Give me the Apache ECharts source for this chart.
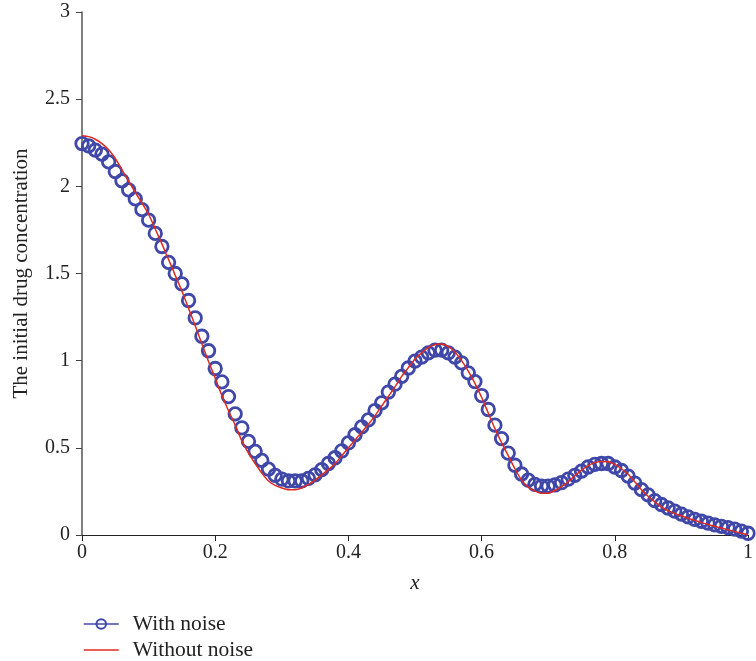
<!DOCTYPE html>
<html><head><meta charset="utf-8">
<script src="https://cdn.jsdelivr.net/npm/echarts@6/dist/echarts.min.js"></script>
<style>html,body{margin:0;padding:0;background:#fff}#c{width:756px;height:661px}</style>
</head><body><div id="c"></div>
<script>
const xValues = [0,0.01,0.02,0.03,0.04,0.05,0.06,0.07,0.08,0.09,0.1,0.11,0.12,0.13,0.14,0.15,0.16,0.17,0.18,0.19,0.2,0.21,0.22,0.23,0.24,0.25,0.26,0.27,0.28,0.29,0.3,0.31,0.32,0.33,0.34,0.35,0.36,0.37,0.38,0.39,0.4,0.41,0.42,0.43,0.44,0.45,0.46,0.47,0.48,0.49,0.5,0.51,0.52,0.53,0.54,0.55,0.56,0.57,0.58,0.59,0.6,0.61,0.62,0.63,0.64,0.65,0.66,0.67,0.68,0.69,0.7,0.71,0.72,0.73,0.74,0.75,0.76,0.77,0.78,0.79,0.8,0.81,0.82,0.83,0.84,0.85,0.86,0.87,0.88,0.89,0.9,0.91,0.92,0.93,0.94,0.95,0.96,0.97,0.98,0.99,1];
const withNoise = [2.245,2.232,2.208,2.185,2.14,2.085,2.032,1.98,1.928,1.866,1.806,1.73,1.655,1.564,1.5,1.44,1.345,1.245,1.14,1.057,0.955,0.878,0.794,0.695,0.615,0.537,0.48,0.428,0.378,0.342,0.32,0.31,0.31,0.31,0.325,0.345,0.375,0.41,0.443,0.482,0.528,0.575,0.62,0.66,0.714,0.758,0.82,0.865,0.91,0.958,0.997,1.02,1.045,1.06,1.06,1.045,1.02,0.987,0.93,0.88,0.8,0.72,0.63,0.553,0.47,0.4,0.35,0.315,0.29,0.28,0.28,0.287,0.3,0.32,0.342,0.366,0.39,0.405,0.41,0.41,0.39,0.37,0.338,0.298,0.26,0.23,0.197,0.175,0.155,0.137,0.12,0.104,0.09,0.079,0.068,0.058,0.05,0.042,0.034,0.022,0.01];
const withoutNoise = [2.29,2.285,2.27,2.245,2.21,2.16,2.095,2.03,1.965,1.904,1.84,1.755,1.67,1.58,1.49,1.4,1.3,1.2,1.097,0.995,0.9,0.8,0.713,0.63,0.54,0.47,0.41,0.355,0.31,0.285,0.27,0.26,0.26,0.27,0.29,0.315,0.345,0.375,0.41,0.455,0.5,0.545,0.59,0.635,0.685,0.74,0.795,0.85,0.91,0.96,1.01,1.045,1.075,1.092,1.095,1.08,1.05,1,0.94,0.87,0.79,0.7,0.61,0.53,0.455,0.38,0.315,0.275,0.252,0.24,0.24,0.255,0.278,0.305,0.34,0.372,0.398,0.415,0.422,0.42,0.405,0.38,0.348,0.305,0.26,0.222,0.19,0.162,0.14,0.124,0.11,0.096,0.084,0.071,0.06,0.05,0.04,0.03,0.02,0.01,0];
const xTicks = ['0','0.2','0.4','0.6','0.8','1'];
const yTicks = ['0','0.5','1','1.5','2','2.5','3'];
const seriesNames = ['With noise','Without noise'];
const axisNames = {x:'x', y:'The initial drug concentration'};

const FONT = '"Liberation Serif","DejaVu Serif",serif';
const BLUE = '#3f47a8', RED = '#e02a1e';
const chart = echarts.init(document.getElementById('c'), null, {renderer:'canvas'});
const legendText = {fontFamily:FONT, fontSize:21.5, color:'#222', padding:[0,0,0,9]};
chart.setOption({
  animation:false,
  backgroundColor:'#fff',
  grid:{left:82, top:12, width:675, height:523, containLabel:false},
  xAxis:[{
    type:'value', min:0, max:1, interval:0.2,
    name:axisNames.x, nameLocation:'middle', nameGap:38,
    nameTextStyle:{fontFamily:FONT, fontSize:21, fontStyle:'italic', color:'#222'},
    axisLine:{show:true, onZero:false, lineStyle:{color:'#222', width:1.2}},
    axisTick:{show:true, inside:false, length:6, lineStyle:{color:'#222'}},
    axisLabel:{fontFamily:FONT, fontSize:20, color:'#222', margin:8, formatter:(v)=>xTicks[Math.round(v/0.2)] },
    splitLine:{show:false}
  },{
    type:'value', min:0, max:1, position:'top',
    axisLine:{show:true, lineStyle:{color:'#222', width:1.2}},
    axisTick:{show:false}, axisLabel:{show:false}, splitLine:{show:false}
  }],
  yAxis:{
    type:'value', min:0, max:3, interval:0.5,
    name:axisNames.y, nameLocation:'middle', nameGap:50,
    nameTextStyle:{fontFamily:FONT, fontSize:21, color:'#222'},
    axisLine:{show:true, onZero:false, lineStyle:{color:'#555', width:1.5}},
    axisTick:{show:true, inside:false, length:6, lineStyle:{color:'#444'}},
    axisLabel:{fontFamily:FONT, fontSize:20, color:'#222', margin:12, formatter:(v)=>yTicks[Math.round(v/0.5)]},
    splitLine:{show:false}
  },
  legend:[{
    orient:'vertical', left:78, top:608, itemWidth:35, itemHeight:12,
    textStyle:legendText,
    data:[{name:seriesNames[0], itemStyle:{color:'transparent', borderColor:BLUE, borderWidth:2}, lineStyle:{color:BLUE, width:1.5, opacity:1}}]
  },{
    orient:'vertical', left:78, top:634, itemWidth:35, itemHeight:12,
    textStyle:legendText,
    data:[{name:seriesNames[1], itemStyle:{opacity:0}, lineStyle:{color:RED, width:1.5}}]
  }],
  series:[
    {
      name:seriesNames[0], type:'line', xAxisIndex:0,
      data:xValues.map((x,i)=>[x, withNoise[i]]),
      symbol:'circle', symbolSize:12.5, showSymbol:true, showAllSymbol:true,
      itemStyle:{color:'transparent', borderColor:BLUE, borderWidth:2.8},
      lineStyle:{color:BLUE, width:1, opacity:0},
      z:2
    },
    {
      name:seriesNames[1], type:'line', xAxisIndex:0,
      data:xValues.map((x,i)=>[x, withoutNoise[i]]),
      symbol:'none', smooth:0.2,
      lineStyle:{color:RED, width:1.5},
      itemStyle:{color:RED},
      z:3
    }
  ]
});
</script></body></html>
